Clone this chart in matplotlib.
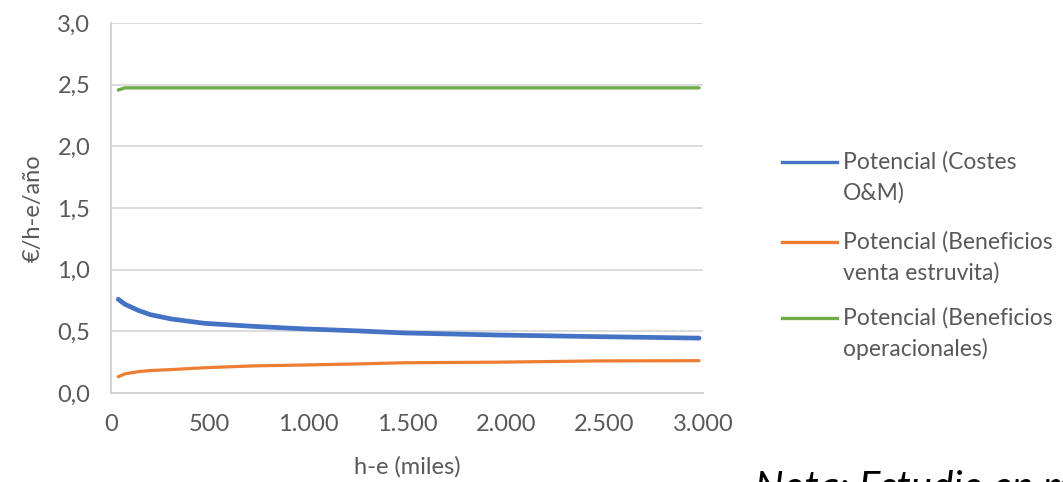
import matplotlib
matplotlib.use("Agg")
import matplotlib.pyplot as plt
from matplotlib.lines import Line2D
from matplotlib.ticker import FuncFormatter, MultipleLocator

plt.rcParams['font.family'] = ['Lato', 'DejaVu Sans']

# values (x in thousands of h-e, y in €/h-e/año)
he_miles = [37, 70, 138, 200, 306, 474, 726, 978, 1230, 1483, 1961, 2466, 2980]
costes_om = [0.76, 0.72, 0.67, 0.635, 0.60, 0.565, 0.54, 0.52, 0.505, 0.487, 0.47, 0.457, 0.445]
benef_estruvita = [0.132, 0.155, 0.173, 0.182, 0.19, 0.205, 0.22, 0.227, 0.235, 0.245, 0.25, 0.26, 0.262]
benef_operac = [2.457, 2.474, 2.474, 2.474, 2.474, 2.474, 2.474, 2.474, 2.474, 2.474, 2.474, 2.474, 2.474]

series = [costes_om, benef_estruvita, benef_operac]
series_labels = ["Potencial (Costes\nO&M)",
                 "Potencial (Beneficios\nventa estruvita)",
                 "Potencial (Beneficios\noperacionales)"]
colors = ["#4472C4", "#ED7D31", "#70AD47"]
widths = [3.4, 2.3, 2.4]

W, H = 1063, 482
fig = plt.figure(figsize=(W / 100, H / 100), dpi=100)
ax = fig.add_axes([111 / W, 1 - 393 / H, (703 - 111) / W, (393 - 23) / H])

for vals, c, lw in zip(series, colors, widths):
    ax.plot(he_miles, vals, color=c, lw=lw, solid_capstyle='round', zorder=3)

ax.set_xlim(0, 3000)
ax.set_ylim(0, 3.0)
ax.xaxis.set_major_locator(MultipleLocator(500))
ax.yaxis.set_major_locator(MultipleLocator(0.5))
ax.xaxis.set_major_formatter(FuncFormatter(lambda v, p: f"{int(v):,}".replace(",", ".")))
ax.yaxis.set_major_formatter(FuncFormatter(lambda v, p: f"{v:.1f}".replace(".", ",")))

grey = "#595959"
ax.grid(axis='y', color="#D9D9D9", lw=1.3)
ax.set_axisbelow(True)
for s in ['top', 'right']:
    ax.spines[s].set_visible(False)
for s in ['left', 'bottom']:
    ax.spines[s].set_color("#D0D0D0")
    ax.spines[s].set_linewidth(1.3)
ax.tick_params(axis='both', length=0, labelsize=17, labelcolor=grey)
ax.tick_params(axis='y', pad=15)
ax.tick_params(axis='x', pad=15)

ax.set_xlabel("h-e (miles)", fontsize=17, color=grey)
ax.set_ylabel("€/h-e/año", fontsize=17, color=grey)
ax.xaxis.set_label_coords(0.5, (393 - 467) / 370)
ax.xaxis.label.set_va('center')
ax.yaxis.set_label_coords((33 - 111) / 592, 0.5)
ax.yaxis.label.set_va('center')

# legend, drawn by hand so the line sits beside the first text line
entry_y = [162, 242, 318]
for lab, c, yy in zip(series_labels, colors, entry_y):
    fig.add_artist(Line2D([782 / W, 837 / W], [1 - yy / H, 1 - yy / H], color=c, lw=2.4))
    for k, line in enumerate(lab.split("\n")):
        fig.text(843 / W, 1 - (yy + 31 * k) / H, line, fontsize=16.5, color=grey,
                 ha='left', va='center')

fig.text(755 / W, 1 - 500 / H, "Nota: Estudio en m", fontsize=29, style='italic',
         color='black', ha='left', va='baseline')

fig.savefig("out.png", dpi=100)
